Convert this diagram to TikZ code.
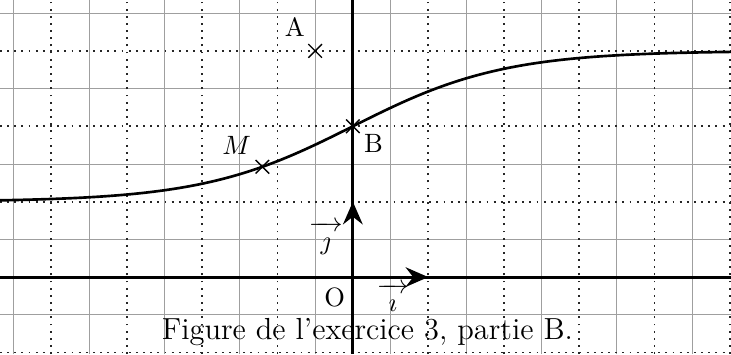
\documentclass[tikz,border=0pt]{standalone}
\usepackage{amsmath,amssymb}
\usetikzlibrary{arrows.meta,calc}
\tikzset{
  grille fine/.style={gray!75,line width=0.3pt},
  grille pointee/.style={black!85,line width=0.7pt,dash pattern=on 0.7pt off 2pt},
  axe/.style={line width=1.1pt},
  courbe/.style={line width=1pt},
  vecteur/.style={-{Stealth[length=3mm,width=2.6mm,inset=1mm]},line width=1.1pt},
  croix/.style={line width=0.5pt}
}
\newcommand{\croix}[1]{%
  \draw[croix] ($(#1)+(-0.18,-0.18)$) -- ($(#1)+(0.18,0.18)$)
    ($(#1)+(-0.18,0.18)$) -- ($(#1)+(0.18,-0.18)$);%
}
\newcommand{\vecteurnom}[1]{\overrightarrow{\vphantom{b}\;\,#1\;\,}}

\begin{document}
\begin{tikzpicture}[x=0.5cm,y=0.5cm]
  \useasboundingbox (-9.36,-2.04) rectangle (10.03,7.35);
  % quadrillage
  \foreach \i in {-9,-7,...,9}
    \draw[grille fine] (\i,-2.04) -- (\i,7.35);
  \foreach \j in {-1,1,...,7}
    \draw[grille fine] (-9.36,\j) -- (10.03,\j);
  \foreach \i in {-8,-6,...,10}
    \draw[grille pointee] (\i,-2.04) -- (\i,7.35);
  \foreach \j in {-2,2,4,6}
    \draw[grille pointee] (-9.36,\j) -- (10.03,\j);
  % axes
  \draw[axe] (-9.36,0) -- (10.03,0);
  \draw[axe] (0,-2.04) -- (0,7.35);
  % repere
  \coordinate (O) at (0,0);
  \coordinate (I) at (2,0);
  \coordinate (J) at (0,2);
  \draw[vecteur] (O) -- (I);
  \draw[vecteur] (O) -- (J);
  \node (labO) at (-0.48,-0.55) {O};
  \node[anchor=base,inner sep=0pt] (labi) at (1.06,-0.92) {$\vecteurnom{\imath}$};
  \node[anchor=base,inner sep=0pt] (labj) at (-0.72,0.73) {$\vecteurnom{\jmath}$};
  % courbe
  \draw[courbe] plot[domain=-9.36:10.03,samples=120,smooth]
    (\x,{2+4/(1+exp(-0.5*\x))});
  % points
  \coordinate (A) at (-1,6);
  \coordinate (B) at (0,4);
  \coordinate (M) at (-2.4,{2+4/(1+exp(1.2))});
  \croix{A}
  \croix{B}
  \croix{M}
  \node (labA) at (-1.54,6.63) {A};
  \node (labB) at (0.55,3.55) {B};
  \node (labM) at (-3.08,3.5) {$M$};
  \node[anchor=base,inner sep=0pt] (titre) at (0.385,-1.66)
    {\fontsize{11.5pt}{14pt}\selectfont Figure de l'exercice 3, partie B.};
\end{tikzpicture}
\end{document}
